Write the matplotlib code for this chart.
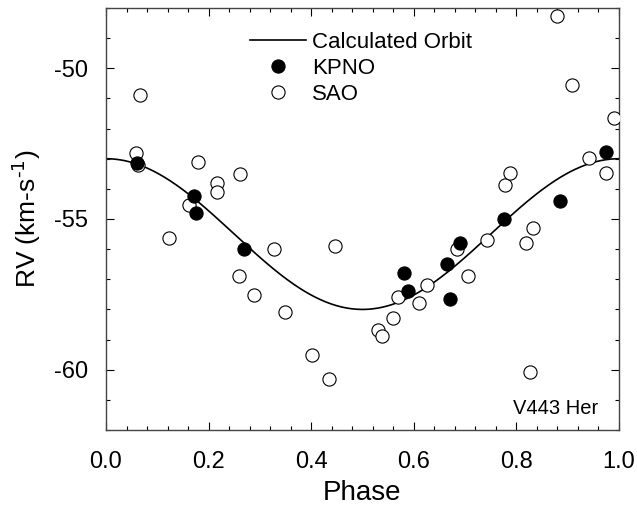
import matplotlib
matplotlib.use("Agg")
import matplotlib.pyplot as plt
import numpy as np
from matplotlib.ticker import MultipleLocator, FormatStrFormatter

plt.rcParams["font.family"] = ["Liberation Sans", "DejaVu Sans"]
plt.rcParams["axes.unicode_minus"] = False

# KPNO radial velocities (filled)
kpno_phase = [0.060, 0.172, 0.175, 0.269, 0.580, 0.589, 0.664, 0.671,
              0.690, 0.776, 0.885, 0.974]
kpno_rv = [-53.13, -54.24, -54.80, -56.01, -56.79, -57.40, -56.49, -57.67,
           -55.79, -55.00, -54.39, -52.78]

# SAO radial velocities (open)
sao_phase = [0.066, 0.058, 0.063, 0.179, 0.216, 0.217, 0.261, 0.162,
             0.122, 0.327, 0.446, 0.260, 0.288, 0.348, 0.402, 0.435,
             0.531, 0.539, 0.560, 0.570, 0.611, 0.625, 0.684, 0.706,
             0.743, 0.778, 0.787, 0.818, 0.833, 0.826, 0.880, 0.908,
             0.942, 0.975, 0.990]
sao_rv = [-50.90, -52.80, -53.22, -53.11, -53.80, -54.11, -53.50, -54.52,
          -55.62, -56.01, -55.90, -56.90, -57.51, -58.10, -59.50, -60.30,
          -58.67, -58.87, -58.28, -57.60, -57.78, -57.20, -56.01, -56.88,
          -55.70, -53.88, -53.47, -55.79, -55.29, -60.06, -48.26, -50.55,
          -52.97, -53.47, -51.66]

# circular orbit solution
gamma = -55.5
K = 2.5

phase = np.linspace(0, 1, 400)
orbit = gamma + K * np.cos(2 * np.pi * phase)

fig = plt.figure(figsize=(6.37, 5.09), dpi=100)
ax = fig.add_axes([0.1664, 0.1552, 0.8053, 0.8291])

ax.plot(phase, orbit, color="black", lw=1.2, label="Calculated Orbit", zorder=2)
ax.plot(kpno_phase, kpno_rv, "o", color="black", ms=9.5, mew=0.8,
        label="KPNO", zorder=4)
ax.plot(sao_phase, sao_rv, "o", mfc="white", mec="black", ms=9.5, mew=0.8,
        label="SAO", zorder=3)

ax.set_xlim(0, 1)
ax.set_ylim(-62, -48)
ax.xaxis.set_major_locator(MultipleLocator(0.2))
ax.xaxis.set_minor_locator(MultipleLocator(0.04))
ax.yaxis.set_major_locator(MultipleLocator(5))
ax.yaxis.set_minor_locator(MultipleLocator(1))
ax.xaxis.set_major_formatter(FormatStrFormatter("%.1f"))
ax.tick_params(which="both", direction="in", top=True, right=True,
               labelsize=17, width=0.8)
ax.tick_params(which="major", length=6)
ax.tick_params(axis="x", which="major", pad=15)
ax.tick_params(axis="y", which="major", pad=13)
ax.tick_params(which="minor", length=3)
for s in ax.spines.values():
    s.set_linewidth(1.0)
    s.set_color("#444444")

ax.set_xlabel("Phase", fontsize=20, labelpad=5)
ax.set_ylabel(r"RV (km-s$^{\text{-1}}$)", fontsize=19, labelpad=8)

ax.legend(loc="upper left", bbox_to_anchor=(0.281, 0.943), frameon=False,
          fontsize=16, handlelength=2.5, handletextpad=0.3,
          labelspacing=0.22, borderpad=0, borderaxespad=0)

ax.text(0.96, 0.052, "V443 Her", transform=ax.transAxes, ha="right",
        va="center", fontsize=14.5)

fig.savefig("out.png", dpi=100)
